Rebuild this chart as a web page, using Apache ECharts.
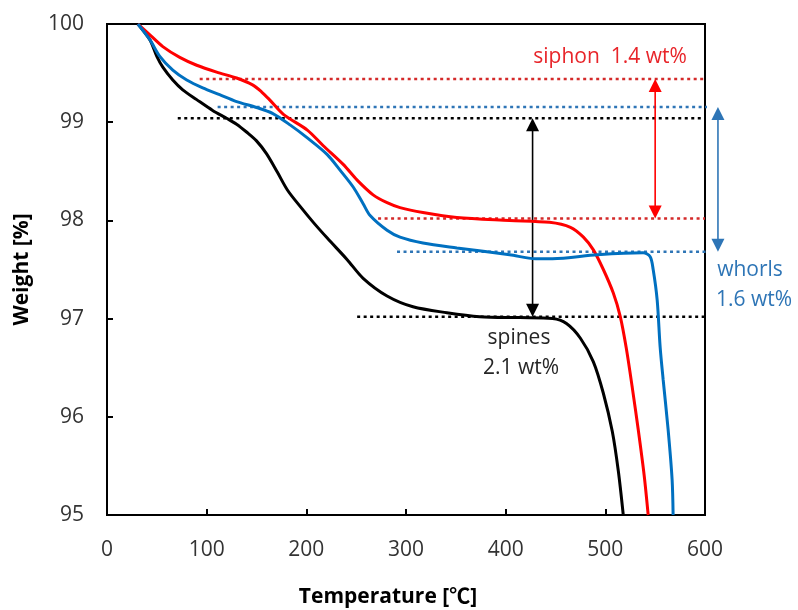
<!DOCTYPE html>
<html>
<head>
<meta charset="utf-8">
<script src="https://cdn.jsdelivr.net/npm/echarts@6/dist/echarts.min.js"></script>
<style>
  html, body { margin: 0; padding: 0; background: #fff; }
  #chart { width: 798px; height: 610px; }
</style>
</head>
<body>
<div id="chart"></div>
<script>
// TGA curves (temperature in degC, weight in %)
var spinesTemp = [31, 43, 50, 56, 66, 76, 90, 106, 120, 130, 140, 150, 160, 171, 181, 194, 207, 221, 241, 257, 281, 307, 341, 374, 414, 447, 461, 475, 488, 498, 507, 513, 518];
var spinesWeight = [100, 99.84, 99.67, 99.56, 99.43, 99.33, 99.23, 99.12, 99.04, 98.98, 98.9, 98.81, 98.68, 98.49, 98.31, 98.14, 97.98, 97.82, 97.6, 97.41, 97.23, 97.12, 97.06, 97.02, 97.01, 97.0, 96.95, 96.8, 96.56, 96.24, 95.85, 95.45, 95.0];

var siphonTemp = [31, 43, 56, 73, 90, 110, 130, 146, 155, 163, 177, 201, 217, 237, 251, 267, 281, 294, 317, 351, 404, 444, 465, 478, 488, 498, 508, 515, 521, 527, 533, 539, 543];
var siphonWeight = [100, 99.89, 99.77, 99.66, 99.58, 99.51, 99.45, 99.38, 99.31, 99.23, 99.08, 98.92, 98.76, 98.57, 98.41, 98.26, 98.18, 98.13, 98.08, 98.03, 98.0, 97.98, 97.93, 97.83, 97.7, 97.5, 97.26, 97.02, 96.7, 96.3, 95.87, 95.4, 95.0];

var whorlsTemp = [31, 43, 53, 66, 80, 96, 113, 130, 150, 166, 184, 201, 221, 234, 247, 257, 264, 281, 294, 317, 351, 404, 430, 447, 492, 538, 545, 548, 552, 555, 558, 563, 567, 568];
var whorlsWeight = [100, 99.84, 99.67, 99.53, 99.43, 99.35, 99.28, 99.21, 99.15, 99.09, 98.97, 98.84, 98.67, 98.51, 98.34, 98.17, 98.05, 97.9, 97.83, 97.77, 97.72, 97.65, 97.61, 97.61, 97.65, 97.67, 97.63, 97.5, 97.19, 96.71, 96.38, 95.87, 95.36, 95.0];

// guide levels (upper, lower), where each dotted guide starts, and where the arrow sits
var siphonLevels = [99.44, 98.02];
var siphonGuideStart = [93, 272];
var siphonArrowAt = 550;
var whorlsLevels = [99.155, 97.68];
var whorlsGuideStart = [111, 291];
var whorlsArrowAt = 613;
var spinesLevels = [99.04, 97.02];
var spinesGuideStart = [71, 251];
var spinesArrowAt = 427;

var tempTicks = [0, 100, 200, 300, 400, 500, 600];
var weightTicks = [95, 96, 97, 98, 99, 100];

var FONT = '"Open Sans", "Noto Sans CJK SC", sans-serif';
var RED = '#ff0000', BLUE = '#0070c0', BLACK = '#000000';
var RED_GUIDE = '#d42a2a', BLUE_GUIDE = '#2e75b6';

function pairs(xs, ys) {
    return xs.map(function (x, i) { return [x, ys[i]]; });
}

function curve(name, xs, ys, color) {
    return {
        name: name,
        type: 'line',
        data: pairs(xs, ys),
        smooth: 0.3,
        symbol: 'none',
        clip: false,
        z: 5,
        lineStyle: { color: color, width: 3 }
    };
}

function guide(level, start, end, color) {
    return {
        type: 'line',
        data: [[start, level], [end, level]],
        symbol: 'none',
        clip: false,
        silent: true,
        z: 3,
        lineStyle: { color: color, width: 2.5, type: [3, 3.5] }
    };
}

// double headed arrow between two levels, drawn through the axes
function arrow(x, levels, color) {
    return {
        type: 'custom',
        data: [[x, levels[0], levels[1]]],
        encode: { x: 0, y: [1, 2] },
        clip: false,
        silent: true,
        z: 4,
        renderItem: function (params, api) {
            var top = api.coord([api.value(0), api.value(1)]);
            var bot = api.coord([api.value(0), api.value(2)]);
            var hw = 6.5, hh = 13;
            return {
                type: 'group',
                children: [
                    { type: 'line', shape: { x1: top[0], y1: top[1] + hh - 1, x2: bot[0], y2: bot[1] - hh + 1 },
                      style: { stroke: color, lineWidth: 1.6 } },
                    { type: 'polygon', shape: { points: [[top[0], top[1]], [top[0] - hw, top[1] + hh], [top[0] + hw, top[1] + hh]] },
                      style: { fill: color } },
                    { type: 'polygon', shape: { points: [[bot[0], bot[1]], [bot[0] - hw, bot[1] - hh], [bot[0] + hw, bot[1] - hh]] },
                      style: { fill: color } }
                ]
            };
        }
    };
}

var chart = echarts.init(document.getElementById('chart'));
chart.setOption({
    backgroundColor: '#fff',
    animation: false,
    grid: {
        left: 107, right: 93, top: 24, bottom: 95,
        outerBoundsMode: 'none',
        show: true, borderColor: '#000', borderWidth: 2
    },
    xAxis: {
        type: 'value',
        min: tempTicks[0], max: tempTicks[tempTicks.length - 1], interval: 100,
        name: 'Temperature [℃]',
        nameLocation: 'middle',
        nameGap: 72,
        nameTextStyle: { fontFamily: FONT, fontSize: 21, fontWeight: 'bold', color: '#000', padding: [0, 36, 0, 0] },
        axisLine: { lineStyle: { color: '#000', width: 2 } },
        axisTick: { inside: true, length: 6, lineStyle: { color: '#000', width: 2 } },
        axisLabel: { margin: 25, fontFamily: FONT, fontSize: 21, color: '#333' },
        splitLine: { show: false }
    },
    yAxis: {
        type: 'value',
        min: weightTicks[0], max: weightTicks[weightTicks.length - 1], interval: 1,
        name: 'Weight [%]',
        nameLocation: 'middle',
        nameGap: 74,
        nameRotate: 90,
        nameTextStyle: { fontFamily: FONT, fontSize: 21, fontWeight: 'bold', color: '#000' },
        axisLine: { lineStyle: { color: '#000', width: 2 } },
        axisTick: { inside: true, length: 6, lineStyle: { color: '#000', width: 2 } },
        axisLabel: { margin: 23, fontFamily: FONT, fontSize: 21, color: '#333' },
        splitLine: { show: false }
    },
    series: [
        guide(siphonLevels[0], siphonGuideStart[0], 600, RED_GUIDE),
        guide(siphonLevels[1], siphonGuideStart[1], 600, RED_GUIDE),
        guide(whorlsLevels[0], whorlsGuideStart[0], 615, BLUE_GUIDE),
        guide(whorlsLevels[1], whorlsGuideStart[1], 615, BLUE_GUIDE),
        guide(spinesLevels[0], spinesGuideStart[0], 600, BLACK),
        guide(spinesLevels[1], spinesGuideStart[1], 600, BLACK),
        arrow(spinesArrowAt, spinesLevels, BLACK),
        arrow(siphonArrowAt, siphonLevels, RED),
        arrow(whorlsArrowAt, whorlsLevels, BLUE_GUIDE),
        curve('spines', spinesTemp, spinesWeight, BLACK),
        curve('siphon', siphonTemp, siphonWeight, RED),
        curve('whorls', whorlsTemp, whorlsWeight, BLUE)
    ],
    graphic: [
        { type: 'text', x: 610, y: 57, style: { text: 'siphon  1.4 wt%', fill: '#e8252a', font: '21px ' + FONT, textAlign: 'center', textVerticalAlign: 'middle' } },
        { type: 'text', x: 750, y: 270, style: { text: 'whorls', fill: BLUE_GUIDE, font: '21px ' + FONT, textAlign: 'center', textVerticalAlign: 'middle' } },
        { type: 'text', x: 754, y: 300, style: { text: '1.6 wt%', fill: BLUE_GUIDE, font: '21px ' + FONT, textAlign: 'center', textVerticalAlign: 'middle' } },
        { type: 'text', x: 519, y: 338, style: { text: 'spines', fill: '#262626', font: '21px ' + FONT, textAlign: 'center', textVerticalAlign: 'middle' } },
        { type: 'text', x: 521, y: 368, style: { text: '2.1 wt%', fill: '#262626', font: '21px ' + FONT, textAlign: 'center', textVerticalAlign: 'middle' } }
    ]
});
</script>
</body>
</html>
